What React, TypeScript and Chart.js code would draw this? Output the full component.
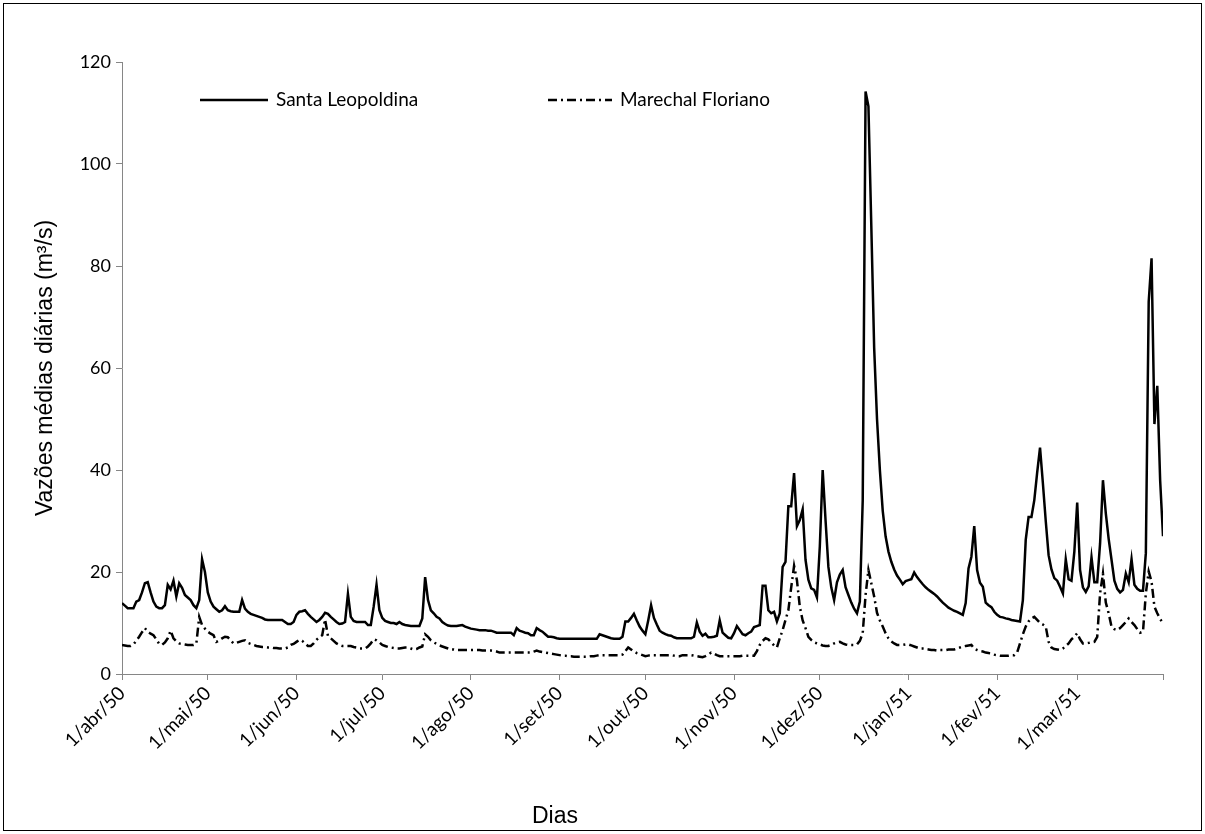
import React, { useEffect, useRef } from "react";
import { Chart, registerables } from "chart.js";

Chart.register(...registerables);

// Day index (0 = 1/abr/50) of each month start, plus the axis end (31/mar/51)
const monthTickDays = [0, 30, 61, 91, 122, 153, 183, 214, 244, 275, 306, 334, 364];
const monthTickLabels = [
  "1/abr/50", "1/mai/50", "1/jun/50", "1/jul/50", "1/ago/50", "1/set/50",
  "1/out/50", "1/nov/50", "1/dez/50", "1/jan/51", "1/fev/51", "1/mar/51", "",
];

const yTicks = [0, 20, 40, 60, 80, 100, 120];

// Santa Leopoldina – daily mean flows (m³/s), 1/abr/50 .. 31/mar/51
const santaLeopoldina = [
  // abr
  13.9, 13.4, 12.9, 12.9, 12.9, 14.2, 14.5, 16.0, 17.8, 18.0, 16.0, 14.2, 13.2, 12.9, 12.9,
  13.5, 17.5, 16.6, 18.3, 15.2, 17.8, 16.9, 15.5, 15.0, 14.5, 13.5, 12.9, 14.5, 22.5, 20.0,
  // mai
  16.0, 14.2, 13.2, 12.7, 12.2, 12.5, 13.3, 12.5, 12.3, 12.2, 12.2, 12.2, 14.5, 12.8, 12.2,
  11.8, 11.6, 11.4, 11.2, 11.0, 10.7, 10.6, 10.6, 10.6, 10.6, 10.6, 10.6, 10.2, 9.8, 9.8, 10.2,
  // jun
  11.6, 12.2, 12.3, 12.5, 11.8, 11.2, 10.7, 10.2, 10.6, 11.2, 12.0, 11.8, 11.2, 10.7, 10.2,
  9.8, 9.9, 10.2, 15.7, 11.2, 10.4, 10.2, 10.2, 10.2, 10.2, 9.6, 9.6, 13.2, 17.5, 12.5,
  // jul
  11.0, 10.4, 10.2, 10.0, 10.0, 9.8, 10.2, 9.8, 9.6, 9.5, 9.4, 9.4, 9.4, 9.4, 10.9,
  19.0, 14.5, 12.5, 11.9, 11.2, 10.9, 10.2, 9.8, 9.5, 9.4, 9.4, 9.4, 9.5, 9.6, 9.3, 9.1,
  // ago
  8.9, 8.8, 8.7, 8.6, 8.6, 8.6, 8.5, 8.5, 8.3, 8.1, 8.1, 8.1, 8.1, 8.1, 8.1,
  7.6, 9.0, 8.5, 8.3, 8.1, 8.0, 7.6, 7.6, 9.0, 8.6, 8.3, 7.8, 7.3, 7.3, 7.2, 7.0,
  // set
  6.9, 6.9, 6.9, 6.9, 6.9, 6.9, 6.9, 6.9, 6.9, 6.9, 6.9, 6.9, 6.9, 6.9, 7.8,
  7.6, 7.4, 7.2, 7.0, 6.9, 6.9, 6.9, 7.3, 10.3, 10.3, 11.0, 11.8, 10.5, 9.3, 8.5,
  // out
  7.8, 10.5, 13.5, 11.0, 9.7, 8.5, 8.1, 7.8, 7.6, 7.5, 7.2, 7.0, 7.0, 7.0, 7.0,
  7.0, 7.0, 7.3, 10.1, 8.3, 7.5, 7.9, 7.2, 7.2, 7.3, 7.5, 10.5, 8.1, 7.6, 7.1, 7.0,
  // nov
  8.0, 9.4, 8.6, 7.8, 7.6, 8.0, 8.3, 9.2, 9.4, 9.6, 17.3, 17.3, 12.5, 11.9, 12.2,
  10.3, 11.9, 21.0, 22.0, 32.9, 32.9, 39.4, 29.0, 30.2, 32.3, 22.4, 18.5, 16.8, 16.5, 15.0,
  // dez
  25.0, 40.0, 30.2, 21.0, 17.0, 14.5, 18.0, 19.5, 20.4, 17.0, 15.5, 14.0, 12.8, 11.9, 14.2,
  34.0, 114.2, 111.3, 88.0, 64.0, 50.0, 40.0, 32.0, 27.0, 24.0, 22.0, 20.5, 19.3, 18.5, 17.6, 18.2,
  // jan
  18.4, 18.6, 19.9, 19.0, 18.3, 17.6, 17.0, 16.5, 16.1, 15.7, 15.2, 14.6, 14.0, 13.5, 13.0,
  12.7, 12.4, 12.2, 11.9, 11.6, 13.9, 20.7, 23.0, 29.0, 20.4, 17.9, 17.1, 14.0, 13.5, 13.1, 12.2,
  // fev
  11.6, 11.2, 11.1, 10.9, 10.8, 10.6, 10.5, 10.4, 10.3, 14.5, 26.3, 30.8, 30.8, 34.1,
  39.5, 44.4, 37.4, 30.0, 23.3, 20.5, 18.8, 18.3, 17.1, 15.8, 22.5, 18.6, 18.3, 24.0,
  // mar
  33.6, 20.4, 17.0, 16.1, 17.2, 22.9, 18.0, 18.0, 25.6, 38.0, 31.5, 26.5, 22.4, 18.3, 16.7,
  16.0, 16.5, 19.7, 18.0, 22.5, 17.5, 16.7, 16.3, 16.3, 23.7, 73.0, 81.5, 49.0, 56.5, 38.0, 27.0,
];

// Marechal Floriano – daily mean flows (m³/s), 1/abr/50 .. 31/mar/51
const marechalFloriano = [
  // abr
  5.7, 5.6, 5.5, 5.5, 5.8, 6.5, 7.3, 8.2, 9.0, 8.3, 7.9, 7.6, 6.8, 5.9, 5.7,
  6.2, 7.0, 8.5, 7.0, 6.4, 6.0, 5.9, 5.8, 5.7, 5.7, 5.7, 6.0, 11.2, 9.6, 8.9,
  // mai
  8.3, 7.9, 7.6, 6.3, 6.6, 7.0, 7.3, 7.2, 6.6, 6.0, 6.1, 6.3, 6.5, 6.6, 6.1,
  5.9, 5.7, 5.5, 5.4, 5.3, 5.3, 5.2, 5.2, 5.1, 5.1, 5.0, 5.0, 5.0, 5.2, 5.7, 5.9,
  // jun
  6.3, 6.7, 6.5, 6.0, 5.5, 5.5, 6.0, 6.7, 7.2, 7.6, 10.7, 7.5, 7.0, 6.5, 6.0,
  5.7, 5.5, 5.5, 5.5, 5.5, 5.3, 5.2, 5.0, 5.0, 5.0, 5.4, 6.0, 6.8, 6.6, 6.2,
  // jul
  5.7, 5.5, 5.3, 5.2, 5.1, 5.0, 5.0, 5.1, 5.2, 5.2, 5.0, 4.8, 4.9, 5.2, 5.4,
  7.8, 7.3, 6.6, 6.2, 5.9, 5.6, 5.4, 5.2, 5.0, 4.8, 4.8, 4.7, 4.7, 4.7, 4.7, 4.7,
  // ago
  4.7, 4.7, 4.7, 4.7, 4.6, 4.6, 4.6, 4.6, 4.5, 4.4, 4.2, 4.2, 4.2, 4.2, 4.2,
  4.2, 4.2, 4.2, 4.2, 4.2, 4.2, 4.2, 4.4, 4.6, 4.4, 4.3, 4.2, 4.1, 4.0, 3.9, 3.8,
  // set
  3.7, 3.6, 3.6, 3.5, 3.5, 3.4, 3.4, 3.4, 3.4, 3.4, 3.4, 3.5, 3.5, 3.6, 3.7,
  3.7, 3.7, 3.7, 3.7, 3.7, 3.7, 3.7, 3.8, 4.5, 5.2, 4.8, 4.4, 4.1, 3.9, 3.7,
  // out
  3.5, 3.6, 3.7, 3.7, 3.7, 3.7, 3.7, 3.7, 3.7, 3.7, 3.6, 3.5, 3.5, 3.7, 3.7,
  3.7, 3.7, 3.6, 3.5, 3.4, 3.3, 3.5, 3.8, 4.2, 4.0, 3.7, 3.5, 3.5, 3.5, 3.5, 3.5,
  // nov
  3.5, 3.5, 3.5, 3.6, 3.6, 3.6, 3.6, 3.6, 4.5, 5.7, 6.5, 7.0, 6.8, 6.2, 5.6,
  5.2, 7.0, 8.6, 10.6, 12.5, 17.0, 21.2, 18.4, 13.2, 10.5, 9.0, 7.3, 6.7, 6.2, 6.0,
  // dez
  5.8, 5.6, 5.5, 5.5, 5.7, 6.0, 6.2, 6.3, 6.0, 5.8, 5.7, 5.7, 5.7, 5.8, 6.5,
  8.0, 15.5, 20.4, 17.8, 15.2, 12.0, 10.5, 9.3, 8.0, 7.0, 6.4, 6.0, 5.7, 5.7, 5.7, 5.8,
  // jan
  5.8, 5.6, 5.4, 5.2, 5.0, 5.0, 4.9, 4.8, 4.7, 4.7, 4.6, 4.7, 4.7, 4.7, 4.8,
  4.8, 4.8, 5.0, 5.2, 5.4, 5.5, 5.6, 5.7, 5.0, 4.7, 4.5, 4.4, 4.2, 4.1, 4.0, 3.8,
  // fev
  3.7, 3.6, 3.6, 3.6, 3.6, 3.7, 3.7, 4.2, 6.0, 7.8, 9.3, 10.3, 10.9, 11.2,
  10.6, 10.0, 9.7, 9.3, 6.3, 5.2, 4.9, 4.8, 4.7, 5.0, 5.5, 6.0, 6.8, 7.3,
  // mar
  8.0, 6.8, 6.0, 6.0, 6.1, 6.2, 6.3, 7.3, 15.8, 19.7, 14.0, 11.9, 9.3, 8.8, 8.6,
  9.0, 9.6, 10.2, 10.9, 10.2, 9.6, 8.8, 8.1, 8.3, 15.8, 20.1, 18.1, 13.2, 11.9, 10.8, 9.9,
];

const seriesNames = ["Santa Leopoldina", "Marechal Floriano"];
const dashDot = [9, 4, 2, 4];

const TICK_FONT = { family: "Lato, 'Open Sans', sans-serif", size: 19 };
const Y_TICK_FONT = { family: "Lato, 'Open Sans', sans-serif", size: 18 };
const TITLE_FONT = { family: "'Liberation Sans', Arial, sans-serif", size: 23 };
const AXIS_GRAY = "#868686";

const decorPlugin = {
  id: "decor",
  afterDraw(chart: any) {
    const ctx = chart.ctx;
    ctx.save();
    // border around the whole picture
    ctx.strokeStyle = "#000";
    ctx.lineWidth = 1;
    ctx.setLineDash([]);
    ctx.strokeRect(3.5, 3.5, 1198, 827);

    // legend
    const ly = 100;
    const items = [
      { x0: 200, x1: 268, dash: [] as number[], text: seriesNames[0] },
      { x0: 548, x1: 612, dash: dashDot, text: seriesNames[1] },
    ];
    ctx.font = `${TICK_FONT.size}px ${TICK_FONT.family}`;
    ctx.textBaseline = "middle";
    ctx.textAlign = "left";
    ctx.fillStyle = "#000";
    for (const it of items) {
      ctx.beginPath();
      ctx.lineWidth = 2.5;
      ctx.strokeStyle = "#000";
      ctx.setLineDash(it.dash);
      ctx.moveTo(it.x0, ly);
      ctx.lineTo(it.x1, ly);
      ctx.stroke();
      ctx.setLineDash([]);
      ctx.fillText(it.text, it.x1 + 8, ly);
    }

    // x axis title
    ctx.font = `${TITLE_FONT.size}px ${TITLE_FONT.family}`;
    ctx.textAlign = "center";
    ctx.fillText("Dias", 555, 817);
    ctx.restore();
  },
};

export default function App() {
  const ref = useRef<HTMLCanvasElement | null>(null);

  useEffect(() => {
    if (!ref.current) return;
    const chart = new Chart(ref.current, {
      type: "line",
      data: {
        datasets: [
          {
            label: seriesNames[0],
            data: santaLeopoldina.map((v, i) => ({ x: i, y: v })),
            borderColor: "#000",
            borderWidth: 2.5,
            pointRadius: 0,
            tension: 0,
            fill: false,
          },
          {
            label: seriesNames[1],
            data: marechalFloriano.map((v, i) => ({ x: i, y: v })),
            borderColor: "#000",
            borderWidth: 2.5,
            borderDash: dashDot,
            pointRadius: 0,
            tension: 0,
            fill: false,
          },
        ],
      },
      options: {
        responsive: false,
        animation: false,
        devicePixelRatio: 1,
        layout: { padding: { left: 8, right: 42, top: 62, bottom: 3 } },
        plugins: {
          legend: { display: false },
          tooltip: { enabled: false },
          title: { display: false },
        },
        scales: {
          x: {
            type: "linear",
            min: 0,
            max: 364,
            afterBuildTicks: (axis: any) => {
              axis.ticks = monthTickDays.map((v) => ({ value: v }));
            },
            afterFit: (s: any) => {
              s.height = 157;
            },
            ticks: {
              autoSkip: false,
              minRotation: 45,
              maxRotation: 45,
              color: "#000",
              font: TICK_FONT,
              padding: 2,
              callback: (_v: any, i: number) => monthTickLabels[i],
            },
            grid: {
              display: true,
              drawOnChartArea: false,
              drawTicks: true,
              tickLength: 6,
              color: AXIS_GRAY,
            },
            border: { display: true, color: AXIS_GRAY, width: 1 },
            title: { display: false },
          },
          y: {
            min: 0,
            max: 120,
            afterBuildTicks: (axis: any) => {
              axis.ticks = yTicks.map((v) => ({ value: v }));
            },
            afterFit: (s: any) => {
              s.width = 114;
            },
            ticks: {
              color: "#000",
              font: Y_TICK_FONT,
              padding: 5,
            },
            grid: {
              display: true,
              drawOnChartArea: false,
              drawTicks: true,
              tickLength: 6,
              color: AXIS_GRAY,
            },
            border: { display: true, color: AXIS_GRAY, width: 1 },
            title: {
              display: true,
              text: "Vazões médias diárias (m³/s)",
              color: "#000",
              font: TITLE_FONT,
              padding: { top: 24, bottom: 0 },
            },
          },
        },
      },
      plugins: [decorPlugin],
    } as any);
    return () => chart.destroy();
  }, []);

  return (
    <div
      style={{
        position: "absolute",
        left: 0,
        top: 0,
        width: 1205,
        height: 834,
        background: "#fff",
      }}
    >
      <canvas ref={ref} width={1205} height={834} style={{ width: 1205, height: 834, display: "block" }} />
    </div>
  );
}
